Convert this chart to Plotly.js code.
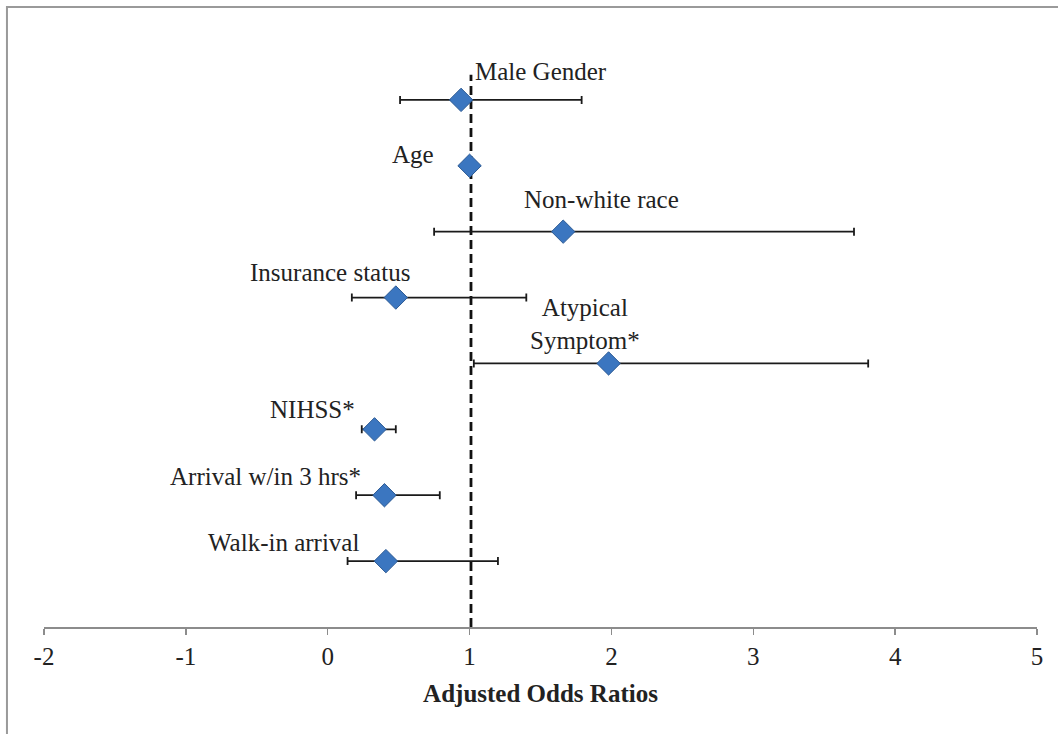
<!DOCTYPE html>
<html>
<head>
<meta charset="utf-8">
<script src="https://cdn.plot.ly/plotly-3.0.1.min.js"></script>
<style>html,body{margin:0;padding:0;background:#fff;}#chart{width:1058px;height:734px;}</style>
</head>
<body>
<div id="chart"></div>
<script>
// Data (top to bottom; plotted positions derive from the index)
var labels = ["Male Gender", "Age", "Non-white race", "Insurance status", "Atypical<br>Symptom*", "NIHSS*", "Arrival w/in 3 hrs*", "Walk-in arrival"];
var oddsRatio = [0.94, 1.00, 1.66, 0.48, 1.98, 0.33, 0.40, 0.41];
var ciLow     = [0.51, 0.98, 0.75, 0.17, 1.03, 0.24, 0.20, 0.14];
var ciHigh    = [1.79, 1.02, 3.71, 1.40, 3.81, 0.48, 0.79, 1.20];
var refX = [1.01, 1.01];
var refY = [0, 8.38];

var FONT = "'Liberation Serif', 'Times New Roman', Times, serif";

// label placement styling (pixel offsets relative to each point)
var labelStyle = [
  {xanchor: "left",   xshift: 12,  yshift: 28},
  {xanchor: "right",  xshift: -34, yshift: 11},
  {xanchor: "center", xshift: 38,  yshift: 32},
  {xanchor: "center", xshift: -66, yshift: 25},
  {xanchor: "center", xshift: -24, yshift: 39},
  {xanchor: "right",  xshift: -18, yshift: 20},
  {xanchor: "right",  xshift: -21, yshift: 19},
  {xanchor: "right",  xshift: -25, yshift: 19}
];

var n = labels.length;
var yPos = labels.map(function(_, i){ return n - i; });

var traces = [
  {
    x: refX, y: refY, mode: "lines", type: "scatter",
    line: {color: "#111", width: 2.8, dash: "9px,5px"},
    hoverinfo: "skip", showlegend: false
  },
  {
    x: oddsRatio, y: yPos, mode: "markers", type: "scatter",
    marker: {symbol: "diamond", size: 18, color: "#3b76c0", line: {color: "#2c5a94", width: 1}},
    error_x: {
      type: "data", symmetric: false,
      array: ciHigh.map(function(h, i){ return h - oddsRatio[i]; }),
      arrayminus: ciLow.map(function(l, i){ return oddsRatio[i] - l; }),
      color: "#1a1a1a", thickness: 1.8, width: 4
    },
    showlegend: false
  }
];

var annotations = labels.map(function(t, i){
  var s = labelStyle[i];
  return {
    x: oddsRatio[i], y: yPos[i], xref: "x", yref: "y", text: t, showarrow: false,
    xanchor: s.xanchor, yanchor: "middle", xshift: s.xshift, yshift: s.yshift,
    font: {family: FONT, size: 25, color: "#222"},
    align: "center"
  };
});

var layout = {
  width: 1058, height: 734,
  margin: {l: 44, r: 21, t: 34, b: 107},
  paper_bgcolor: "#fff", plot_bgcolor: "#fff",
  font: {family: FONT, size: 25, color: "#222"},
  xaxis: {
    range: [-2, 5], tickvals: [-2, -1, 0, 1, 2, 3, 4, 5], ticktext: ["-2", "-1", "0", "1", "2", "3", "4", "5"],
    showgrid: false, zeroline: false, showline: true, linecolor: "#8c8c8c", linewidth: 1.5,
    ticks: "outside", ticklen: 6, tickcolor: "#8c8c8c", tickwidth: 1.5,
    tickfont: {family: FONT, size: 25, color: "#222"},
    title: {text: "<b>Adjusted Odds Ratios</b>", font: {family: FONT, size: 25, color: "#222"}, standoff: 16}
  },
  yaxis: {
    range: [0, 9], visible: false, showgrid: false, zeroline: false, fixedrange: true
  },
  annotations: annotations,
  shapes: [
    {type: "rect", xref: "paper", yref: "paper", x0: -0.0373, x1: 1.03, y0: -0.2, y1: 1.0455,
     line: {color: "#9a9a9a", width: 2}, fillcolor: "rgba(0,0,0,0)", layer: "below"}
  ],
  showlegend: false
};

Plotly.newPlot("chart", traces, layout, {displayModeBar: false, staticPlot: true});
</script>
</body>
</html>
